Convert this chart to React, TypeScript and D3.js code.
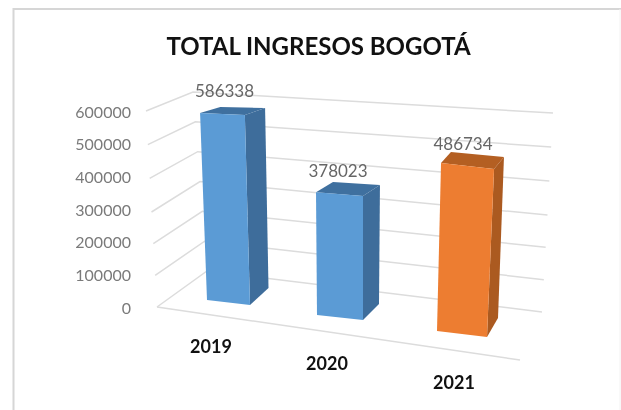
import React from "react";
import * as d3 from "d3";

const categories = ["2019", "2020", "2021"];
const values = [586338, 378023, 486734];
const barColors = ["#5b9bd5", "#5b9bd5", "#ed7d31"];
const sideColors = ["#3e6d9b", "#3e6d9b", "#ab5a20"];
const topColors = ["#3f709f", "#3f709f", "#b45f22"];
const ticks = [0, 100000, 200000, 300000, 400000, 500000, 600000];

const W = 621, H = 410;
const idx = [0, 1, 2];

// Perspective box of the plot: each edge is a scale in value
const frontY = d3.scaleLinear().domain([0, 300000, 600000]).range([307, 212, 111]);
const frontX = d3.scaleLinear().domain([0, 600000]).range([157, 146]);
const cornerY = d3.scaleLinear().domain([0, 600000]).range([271, 92]);
const cornerX = d3.scaleLinear().domain([0, 600000]).range([207, 193]);
const backY = d3.scaleLinear().domain([0, 300000, 600000]).range([312, 215, 113]);
const backX = d3.scaleLinear().domain([0, 600000]).range([542, 553]);

// Bars: footprint in the perspective floor, one stop per category
const baseLX = d3.scaleLinear().domain(idx).range([207, 317, 437]);
const baseLY = d3.scaleLinear().domain(idx).range([300, 315, 331]);
const baseRX = d3.scaleLinear().domain(idx).range([250, 363, 487]);
const baseRY = d3.scaleLinear().domain(idx).range([305, 320, 337]);
const baseBX = d3.scaleLinear().domain(idx).range([268.5, 379, 498]);
const baseBY = d3.scaleLinear().domain(idx).range([288, 304, 318]);
// Pixels of height per unit of value, and horizontal lean per pixel of height
const perValueL = d3.scaleLinear().domain(idx).range([0.000319, 0.000325, 0.000345]);
const perValueR = d3.scaleLinear().domain(idx).range([0.000324, 0.000328, 0.000345]);
const perValueB = d3.scaleLinear().domain(idx).range([0.000307, 0.000315, 0.000331]);
const leanL = d3.scaleLinear().domain(idx).range([-0.037, -0.008, 0.024]);
const leanR = d3.scaleLinear().domain(idx).range([-0.027, 0, 0.042]);
const leanB = d3.scaleLinear().domain(idx).range([-0.019, 0.008, 0.037]);

const tickX = 131;
const tickLabelY = d3.scaleLinear().domain([0, 600000]).range([308, 112]);
const pts = (p: number[][]) => p.map((q) => q.join(",")).join(" ");
const line = d3.line();

const labelPos = [[224.5, 91], [338, 171], [463, 144]];
const catPos = [[211, 347], [327, 364], [454, 383]];

export default function App() {
  return (
    <svg
      width={W}
      height={H}
      viewBox={`0 0 ${W} ${H}`}
      style={{ position: "fixed", left: 0, top: 0, background: "#fff", fontFamily: "Lato", filter: "blur(0.45px)" }}
    >
      <path d={`M13.5,${H} V9 H${W}`} fill="none" stroke="#d6d6d6" strokeWidth={2} />
      <path d={`M620,9 V${H}`} fill="none" stroke="#f2f2f2" strokeWidth={1} />
      <text x={318.5} y={55} textAnchor="middle" fontSize={24} fontWeight={700} fill="#111">
        TOTAL INGRESOS BOGOTÁ
      </text>

      {ticks.map((t) => (
        <g key={t}>
          <path
            d={line([[frontX(t), frontY(t)], [cornerX(t), cornerY(t)], [backX(t), backY(t)]]) as string}
            fill="none"
            stroke="#dcdcdc"
            strokeWidth={1.5}
          />
          <text x={tickX} y={tickLabelY(t) + 5.5} textAnchor="end" fontSize={16} fill="#7a7a7a">
            {t}
          </text>
        </g>
      ))}
      <path
        d={line([[frontX(0), frontY(0)], [520, 360]]) as string}
        fill="none"
        stroke="#dcdcdc"
        strokeWidth={1.5}
      />

      {values.map((v, i) => {
        const hL = v * perValueL(i);
        const hR = v * perValueR(i);
        const hB = v * perValueB(i);
        const bl = [baseLX(i), baseLY(i)];
        const br = [baseRX(i), baseRY(i)];
        const bb = [baseBX(i), baseBY(i)];
        const tl = [bl[0] + hL * leanL(i), bl[1] - hL];
        const tr = [br[0] + hR * leanR(i), br[1] - hR];
        const tb = [bb[0] + hB * leanB(i), bb[1] - hB];
        const tk = [tl[0] + (tb[0] - tr[0]), tl[1] + (tb[1] - tr[1]) + 1];
        return (
          <g key={categories[i]}>
            <polygon points={pts([br, bb, tb, tr])} fill={sideColors[i]} />
            <polygon points={pts([tl, tr, tb, tk])} fill={topColors[i]} />
            <polygon points={pts([bl, br, tr, tl])} fill={barColors[i]} />
            <text x={labelPos[i][0]} y={labelPos[i][1] + 6} textAnchor="middle" fontSize={17} fill="#666">
              {v}
            </text>
            <text x={catPos[i][0]} y={catPos[i][1] + 6} textAnchor="middle" fontSize={18} fontWeight={700} fill="#111">
              {categories[i]}
            </text>
          </g>
        );
      })}
    </svg>
  );
}
